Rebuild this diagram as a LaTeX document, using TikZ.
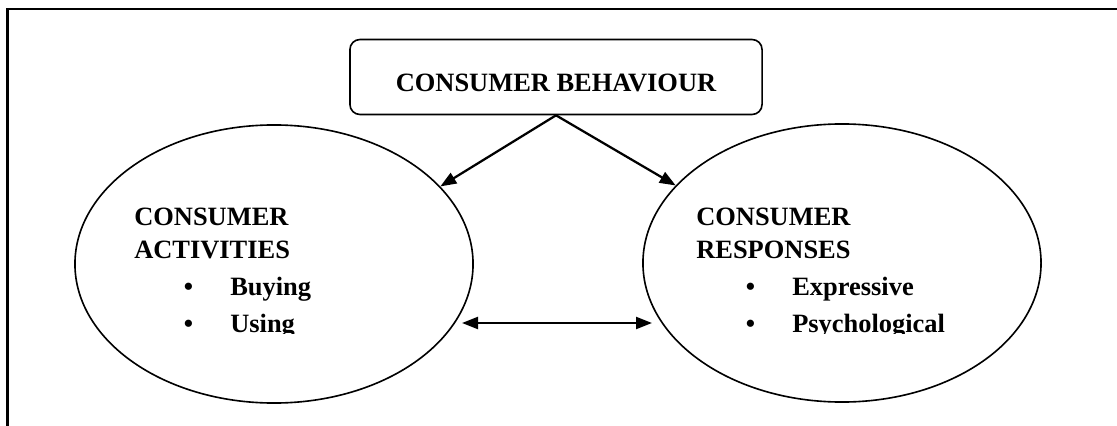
\documentclass[tikz,border=0pt]{standalone}
\usepackage{fontspec}
\setmainfont{Liberation Serif}
\usetikzlibrary{shapes.geometric,arrows.meta}
\tikzset{
  frame/.style={draw=black, line width=1.7pt},
  bx/.style={draw=black, line width=1.15pt, rounded corners=0.25cm, minimum width=10.3cm, minimum height=1.875cm, inner sep=0pt, text height=0.7cm, text depth=0pt},
  ell/.style={ellipse, draw=black, line width=1.15pt, minimum width=9.95cm, minimum height=6.95cm, inner sep=0pt},
  link/.style={draw=black, line width=1.6pt, -{Triangle[length=0.4cm,width=0.3cm]}},
  txt/.style={align=left, anchor=base west, inner sep=0pt},
  every node/.style={font=\fontsize{18.8}{23.5}\selectfont\bfseries}
}
\newcommand{\itm}[1]{\makebox[2.4cm][l]{\hspace*{1.24cm}\textbullet}#1}

\begin{document}
\begin{tikzpicture}[x=0.025cm, y=-0.025cm]
  \useasboundingbox (0,0) rectangle (1117,426);
  \draw[frame] (7.5,426) -- (7.5,9) -- (1117,9);

  \node[bx] (cb) at (556,77) {CONSUMER BEHAVIOUR};
  \node[ell] (act) at (274,264) {};
  \node[ell] (res) at (842,263) {};

  % text box cuts the last line
  \begin{scope}
    \clip (0,0) rectangle (1117,333);
    \node[txt] (acttxt) at (134,332) {CONSUMER\\ACTIVITIES\\[2.5pt]\itm{Buying}\\[2.5pt]\itm{Using}};
    \node[txt] (restxt) at (696,332) {CONSUMER\\RESPONSES\\[2.5pt]\itm{Expressive}\\[2.5pt]\itm{Psychological}};
  \end{scope}

  \coordinate (dl) at (462,323);
  \coordinate (dr) at (652,323);
  \draw[link] (cb.south) -- (act.25.6);
  \draw[link] (cb.south) -- (res.155.8);
  \draw[link,{Triangle[length=0.4cm,width=0.3cm]}-{Triangle[length=0.4cm,width=0.3cm]}] (dl) -- (dr);
\end{tikzpicture}
\end{document}
